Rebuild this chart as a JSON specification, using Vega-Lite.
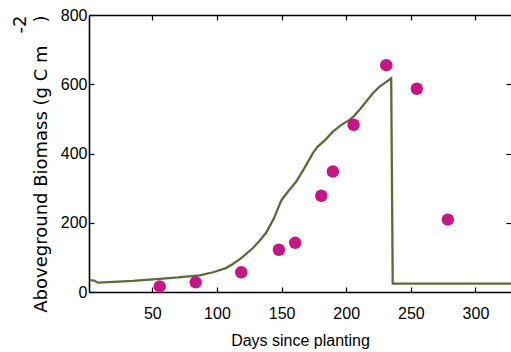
{
  "$schema": "https://vega.github.io/schema/vega-lite/v6.json",
  "width": 422,
  "height": 277,
  "autosize": "none",
  "padding": {"left": 89, "top": 15, "right": 0, "bottom": 60},
  "config": {
    "font": "Liberation Sans",
    "view": {"stroke": null},
    "axis": {
      "grid": false,
      "domainColor": "#000000",
      "domainWidth": 1.6,
      "tickColor": "#000000",
      "tickWidth": 1.2,
      "tickSize": -5,
      "labelColor": "#000000",
      "labelFontSize": 16,
      "labelFont": "Liberation Sans",
      "titleColor": "#000000",
      "titleFontWeight": "normal",
      "labelFlush": false,
      "labelOverlap": false
    }
  },
  "datasets": {
    "model": [
      {"day": 1.5, "biomass": 34},
      {"day": 5, "biomass": 33},
      {"day": 8, "biomass": 27},
      {"day": 20, "biomass": 29},
      {"day": 35, "biomass": 32},
      {"day": 55.6, "biomass": 38},
      {"day": 70, "biomass": 42},
      {"day": 86.6, "biomass": 48},
      {"day": 97, "biomass": 57},
      {"day": 107, "biomass": 69},
      {"day": 112, "biomass": 80},
      {"day": 117.5, "biomass": 94},
      {"day": 122, "biomass": 108},
      {"day": 127.8, "biomass": 127},
      {"day": 133, "biomass": 148},
      {"day": 138, "biomass": 171},
      {"day": 144, "biomass": 212},
      {"day": 149.7, "biomass": 264},
      {"day": 155, "biomass": 290},
      {"day": 161.4, "biomass": 319},
      {"day": 168, "biomass": 360},
      {"day": 174.2, "biomass": 401},
      {"day": 178, "biomass": 420},
      {"day": 184, "biomass": 440},
      {"day": 189.7, "biomass": 463},
      {"day": 196, "biomass": 482},
      {"day": 202.6, "biomass": 497},
      {"day": 206, "biomass": 508},
      {"day": 210.3, "biomass": 526},
      {"day": 215, "biomass": 548},
      {"day": 220.6, "biomass": 574},
      {"day": 225.8, "biomass": 593},
      {"day": 230, "biomass": 604},
      {"day": 234.8, "biomass": 617},
      {"day": 236, "biomass": 24},
      {"day": 260, "biomass": 24},
      {"day": 327.5, "biomass": 24}
    ],
    "observed": [
      {"day": 55.7, "biomass": 16},
      {"day": 83.5, "biomass": 28},
      {"day": 118.8, "biomass": 57},
      {"day": 147.9, "biomass": 122},
      {"day": 160.5, "biomass": 142},
      {"day": 180.7, "biomass": 278},
      {"day": 189.7, "biomass": 348},
      {"day": 205.7, "biomass": 483},
      {"day": 231, "biomass": 655},
      {"day": 254.6, "biomass": 587},
      {"day": 278.6, "biomass": 209}
    ]
  },
  "layer": [
    {
      "data": {"name": "model"},
      "mark": {"type": "line", "color": "#5a6b3a", "strokeWidth": 2.3, "clip": true},
      "encoding": {
        "x": {
          "field": "day",
          "type": "quantitative",
          "scale": {"domain": [1, 327.5], "nice": false, "zero": false},
          "axis": {
            "orient": "bottom",
            "values": [50, 100, 150, 200, 250, 300],
            "labelPadding": 18,
            "title": "Days since planting",
            "titleFont": "Liberation Sans",
            "titleFontSize": 16,
            "titlePadding": 11
          }
        },
        "y": {
          "field": "biomass",
          "type": "quantitative",
          "scale": {"domain": [0, 800], "nice": false},
          "axis": {
            "orient": "left",
            "values": [0, 200, 400, 600, 800],
            "labelPadding": 7,
            "title": ["-2\u00a0", "Aboveground Biomass (g C m\u00a0\u00a0\u00a0\u00a0)"],
            "titleFont": "DejaVu Sans",
            "titleFontSize": 18,
            "titleAnchor": "end",
            "titleAlign": "right",
            "titleLineHeight": 21,
            "titlePadding": 10
          }
        }
      }
    },
    {
      "data": {"name": "observed"},
      "mark": {"type": "point", "shape": "circle", "filled": true, "opacity": 1, "size": 155, "color": "#c71585"},
      "encoding": {
        "x": {
          "field": "day",
          "type": "quantitative",
          "axis": {"orient": "top", "values": [50, 100, 150, 200, 250, 300], "labels": false, "title": null}
        },
        "y": {
          "field": "biomass",
          "type": "quantitative",
          "axis": {"orient": "right", "values": [200, 400, 600], "labels": false, "domain": false, "title": null}
        }
      }
    }
  ],
  "resolve": {"axis": {"x": "independent", "y": "independent"}}
}
